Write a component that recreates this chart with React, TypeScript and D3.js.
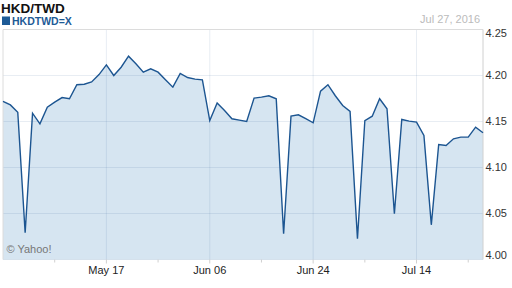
import React from "react";
import * as d3 from "d3";

const title = "HKD/TWD";
const seriesName = "HKDTWD=X";
const dateLabel = "Jul 27, 2016";
const credit = "© Yahoo!";

// weekday dates from Apr 27 2016 to Jul 27 2016 (66 trading days)
const dates: Date[] = d3
  .timeDay.range(new Date(2016, 3, 27), new Date(2016, 6, 28))
  .filter((d) => d.getDay() !== 0 && d.getDay() !== 6);

const values: number[] = [
  4.172, 4.168, 4.16, 4.029, 4.159, 4.1475, 4.1655, 4.171, 4.176, 4.1747,
  4.19, 4.1905, 4.193, 4.201, 4.2116, 4.2, 4.209, 4.221, 4.2127, 4.2036,
  4.2073, 4.2036, 4.1953, 4.1873, 4.2022, 4.1978, 4.196, 4.1953, 4.151, 4.17,
  4.162, 4.153, 4.1515, 4.15, 4.1754, 4.1765, 4.178, 4.1747, 4.028, 4.1558,
  4.1573, 4.153, 4.1486, 4.183, 4.19, 4.178, 4.1674, 4.161, 4.0225, 4.151,
  4.1558, 4.1747, 4.1638, 4.0497, 4.1522, 4.1504, 4.1493, 4.1348, 4.0377, 4.125,
  4.124, 4.1312, 4.133, 4.133, 4.1438, 4.1377,
];

const yTicks = [4.0, 4.05, 4.1, 4.15, 4.2, 4.25];
const tickStep = 7;

const FONT = "Arial, 'Liberation Sans', Helvetica, sans-serif";

export default function App() {
  const W = 512;
  const H = 288;
  const left = 3;
  const right = 483;
  const top = 29.5;
  const bottom = 259.5;

  const x = d3.scaleLinear().domain([0, values.length - 1]).range([left, right]);
  const y = d3.scaleLinear().domain([4.0, 4.25]).range([bottom, top]);

  const line = d3
    .line<number>()
    .x((_, i) => x(i))
    .y((d) => y(d));
  const area = d3
    .area<number>()
    .x((_, i) => x(i))
    .y0(bottom)
    .y1((d) => y(d));

  const tickIdx = d3.range(tickStep, values.length, tickStep);
  const fmt = d3.timeFormat("%b %d");
  const gridColor = "rgba(45,88,148,0.11)";

  return (
    <svg
      width={W}
      height={H}
      style={{ position: "absolute", left: 0, top: 0, background: "#fff" }}
      fontFamily={FONT}
    >
      {/* header */}
      <text x={1} y={12.5} fontSize={13.5} fontWeight="bold" fill="#111">
        {title}
      </text>
      <rect x={2} y={16.5} width={8} height={8.5} fill="#1d5a96" />
      <text x={12} y={24.8} fontSize={10.5} fontWeight="bold" fill="#1d5a96">
        {seriesName}
      </text>
      <text x={480} y={22.5} fontSize={11} fill="#bbb" textAnchor="end">
        {dateLabel}
      </text>

      {/* area */}
      <path d={area(values) || ""} fill="#d6e5f1" />

      {/* grid */}
      {yTicks.map((t) => (
        <line key={"gy" + t} x1={left} x2={right} y1={y(t)} y2={y(t)} stroke={gridColor} />
      ))}
      {tickIdx
        .filter((i) => i % (tickStep * 2) === 0)
        .map((i) => (
          <line key={"gx" + i} x1={x(i)} x2={x(i)} y1={top} y2={bottom} stroke={gridColor} />
        ))}

      {/* frame */}
      <line x1={left} x2={right} y1={top} y2={top} stroke="#dcdcdc" />
      <line x1={left} x2={left} y1={top} y2={bottom} stroke="#dcdcdc" />
      <line x1={right} x2={right} y1={top} y2={bottom} stroke="#d0d0d0" />

      {/* line */}
      <path d={line(values) || ""} fill="none" stroke="#1c5591" strokeWidth={1.4} />

      {/* bottom ticks */}
      {tickIdx.map((i) => (
        <line
          key={"tx" + i}
          x1={x(i)}
          x2={x(i)}
          y1={bottom}
          y2={bottom + (i % (tickStep * 2) === 0 ? 4 : 3)}
          stroke="#d0d0d0"
        />
      ))}
      {tickIdx
        .filter((i) => i % (tickStep * 2) === 0)
        .map((i) => (
          <text key={"lx" + i} x={x(i)} y={274} fontSize={11} fill="#222" textAnchor="middle">
            {fmt(dates[i])}
          </text>
        ))}

      {/* right axis labels */}
      {yTicks.map((t) => (
        <text
          key={"ly" + t}
          x={485.5}
          y={Math.min(Math.max(y(t), 33.5), 255.5)}
          dy="0.35em"
          fontSize={11}
          fill="#333"
        >
          {t.toFixed(2)}
        </text>
      ))}

      <text x={6.5} y={253} fontSize={11} fill="#777">
        {credit}
      </text>
    </svg>
  );
}
